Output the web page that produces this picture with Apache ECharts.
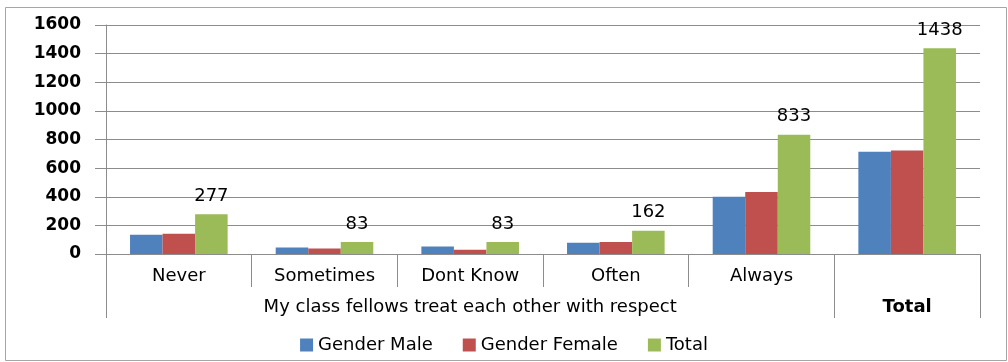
<!DOCTYPE html>
<html>
<head>
<meta charset="utf-8">
<script src="https://cdn.jsdelivr.net/npm/echarts@6/dist/echarts.min.js"></script>
<style>
html,body{margin:0;padding:0;background:#fff;}
#chart{width:1008px;height:362px;}
</style>
</head>
<body>
<div id="chart"></div>
<script>
const categories = ['Never', 'Sometimes', 'Dont Know', 'Often', 'Always', ''];
const groupLabels = ['', '', 'My class fellows treat each other with respect', '', '', 'Total'];
const seriesNames = ['Gender Male', 'Gender Female', 'Total'];
const maleValues = [135, 45, 53, 78, 400, 715];
const femaleValues = [142, 38, 30, 84, 433, 723];
const totalValues = [277, 83, 83, 162, 833, 1438];
const yTicks = [0, 200, 400, 600, 800, 1000, 1200, 1400, 1600];

const FONT = 'DejaVu Sans';
const chart = echarts.init(document.getElementById('chart'), null, {renderer: 'canvas'});
const groupBoundaries = [0, 5];

chart.setOption({
  animation: false,
  backgroundColor: '#fff',
  color: ['#4F81BD', '#C0504D', '#9BBB59'],
  graphic: [{
    type: 'rect',
    shape: {x: 5.5, y: 7.5, width: 1001, height: 353},
    style: {fill: 'none', stroke: '#a6a6a6', lineWidth: 1},
    silent: true
  }],
  grid: {left: 106, right: 28, top: 25, bottom: 108, containLabel: false},
  legend: {
    data: seriesNames,
    left: 'center',
    top: 331,
    itemWidth: 13,
    itemHeight: 13,
    itemGap: 30,
    icon: 'rect',
    textStyle: {fontFamily: FONT, fontSize: 18, color: '#000'}
  },
  xAxis: [{
    type: 'category',
    data: categories,
    position: 'bottom',
    axisLine: {show: true, lineStyle: {color: '#8c8c8c', width: 1}},
    axisTick: {show: true, interval: 0, length: 33, lineStyle: {color: '#8c8c8c'}},
    axisLabel: {interval: 0, margin: 13, fontFamily: FONT, fontSize: 18, color: '#000'}
  }, {
    type: 'category',
    data: groupLabels,
    position: 'bottom',
    axisLine: {show: false},
    axisTick: {
      show: true,
      length: 64,
      interval: function (index) { return groupBoundaries.indexOf(index) >= 0; },
      lineStyle: {color: '#8c8c8c'}
    },
    axisLabel: {
      interval: 0, margin: 44, fontFamily: FONT, fontSize: 18, color: '#000',
      formatter: function (v) { return v === 'Total' ? '{b|' + v + '}' : v; },
      rich: {b: {fontFamily: FONT, fontSize: 18, fontWeight: 'bold', color: '#000'}}
    }
  }],
  yAxis: {
    type: 'value',
    min: yTicks[0],
    max: yTicks[yTicks.length - 1],
    interval: 200,
    axisLine: {show: true, lineStyle: {color: '#8c8c8c'}},
    axisTick: {show: true, length: 11, lineStyle: {color: '#8c8c8c'}},
    splitLine: {show: true, lineStyle: {color: '#8c8c8c', width: 1}},
    axisLabel: {
      margin: 25, fontFamily: FONT, fontSize: 17, fontWeight: 'bold', color: '#000',
      formatter: function (v) { return String(v); }
    }
  },
  series: [{
    name: seriesNames[0],
    type: 'bar',
    data: maleValues,
    barGap: '0%',
    barCategoryGap: '33%'
  }, {
    name: seriesNames[1],
    type: 'bar',
    data: femaleValues,
    barGap: '0%',
    barCategoryGap: '33%'
  }, {
    name: seriesNames[2],
    type: 'bar',
    data: totalValues,
    barGap: '0%',
    barCategoryGap: '33%',
    label: {
      show: true,
      position: 'top',
      distance: 9,
      fontFamily: FONT,
      fontSize: 18,
      color: '#000'
    }
  }]
});
</script>
</body>
</html>
